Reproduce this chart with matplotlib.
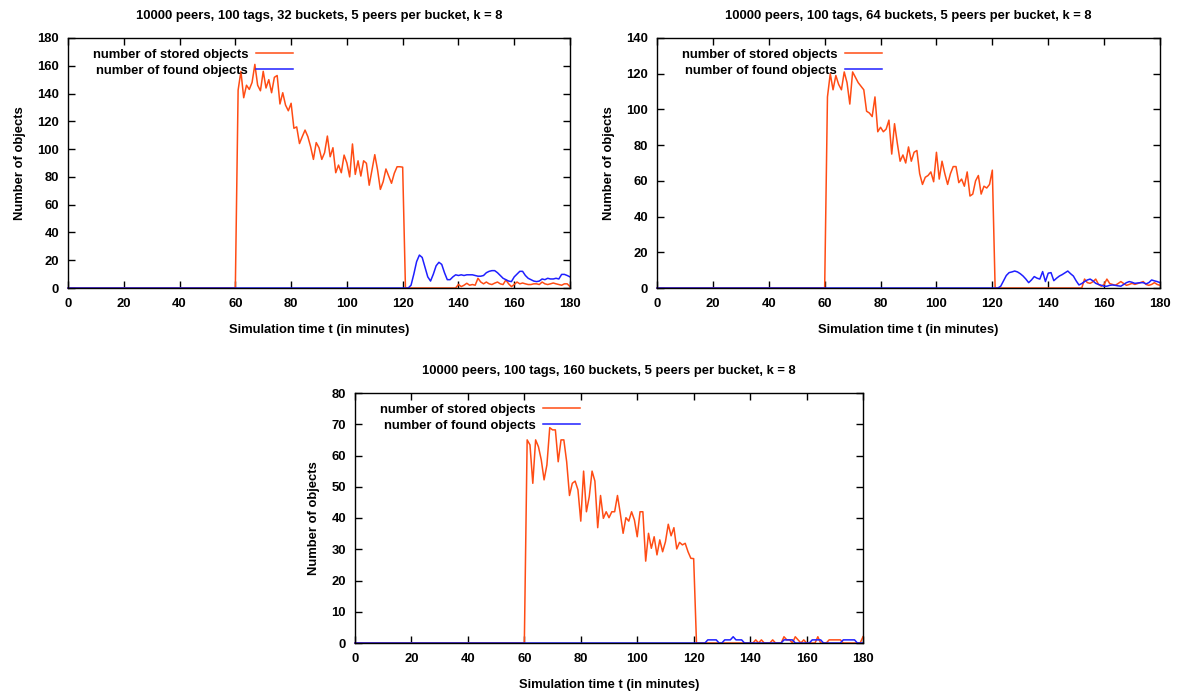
import numpy as np
import matplotlib
matplotlib.use("Agg")
import matplotlib.pyplot as plt

plt.rcParams['font.family'] = ['Liberation Sans', 'DejaVu Sans']
plt.rcParams['font.weight'] = 'bold'

minutes = np.arange(0, 181)

titles = ["10000 peers, 100 tags, 32 buckets, 5 peers per bucket, k = 8",
          "10000 peers, 100 tags, 64 buckets, 5 peers per bucket, k = 8",
          "10000 peers, 100 tags, 160 buckets, 5 peers per bucket, k = 8"]
y_max = [180, 140, 80]
y_step = [20, 20, 10]
x_ticks = [0, 20, 40, 60, 80, 100, 120, 140, 160, 180]

# ---- 32 buckets ----
stored_32_active = [142.5, 156, 137, 146, 143, 148, 161, 146, 142, 156, 144, 150, 140.6, 151.7, 153,
                    132.5, 140.6, 131.7, 127.6, 133, 115, 116, 104, 109, 113.7, 109, 101.7, 92.6, 104.7, 101,
                    92.6, 97.4, 109.4, 94.5, 101, 83, 88.5, 83, 95.7, 90, 80, 103.7, 81.8, 91.6, 80.6,
                    91.6, 89.8, 74, 85, 96, 85, 71, 76.5, 85.7, 80.6, 75.4, 82.6, 87.3, 87.3, 87]
stored_32_tail = [0] * 19 + [2.6, 1, 2, 3.4, 2, 2.5, 2, 7, 4.3, 3, 4.3, 3, 2.5, 3.5, 4.3, 3, 2.5, 5.8, 3, 1,
                             2.5, 4.3, 3, 3.6, 3, 2.5, 2.5, 3, 3, 2.5, 4.3, 3, 2.5, 3, 3.6, 3, 2.5, 2, 3, 3, 1]
found_32_tail = [0, 0, 2, 10, 19, 23.7, 22, 15, 8, 5, 10, 16, 18.5, 17, 11, 6, 6, 8, 9.5, 9,
                 9.5, 9, 9.5, 9.5, 9.5, 9, 8.5, 8.5, 9, 11, 12, 12.5, 12.5, 11, 9, 7, 6, 5, 4.6, 8,
                 10, 12, 12, 9, 7, 6, 5, 4.6, 5, 6.5, 6, 7, 6.5, 6.5, 7, 6.5, 9.8, 9.8, 9, 8]

# ---- 64 buckets ----
stored_64_active = [107, 120, 111, 119, 114, 111, 121, 115, 103, 121, 118, 115, 113, 111, 99,
                    98, 96, 107, 87.5, 90, 87.5, 89, 94, 75, 92, 81, 71, 74.5, 70, 79,
                    71, 76, 77, 64, 58, 62, 63, 65, 59.5, 76, 61, 71, 64, 58, 64,
                    68, 68, 59, 61, 57, 65, 51.5, 52.6, 60, 63, 52.6, 57, 56, 58, 66]
stored_64_tail = [0] * 32 + [5, 3, 2.6, 3.5, 5, 2, 1, 2, 5, 2.5, 2, 1.5, 2.5, 3.6, 2.5, 1.5, 2, 2.6,
                             2, 2.5, 3, 3.6, 2, 1.5, 2, 3, 2, 1.5]
found_64_tail = [0, 0, 1, 4, 7, 8.6, 9, 9.5, 9, 8, 6.7, 5, 3, 4.5, 6.4, 5.5, 5, 9.2, 3.6, 8.3,
                 8.6, 4.1, 5.5, 6.7, 7.5, 8.5, 9.5, 8, 6.7, 4, 1.7, 2.5, 3.6, 4.5, 5, 4, 2.6, 2, 1.5, 1,
                 1, 1.5, 1.7, 1.5, 1.2, 1, 2, 3, 3.6, 3.2, 2.6, 2.8, 3, 3, 2.3, 3, 4.5, 4, 3.6, 3]

# ---- 160 buckets ----
stored_160_active = [65, 63.4, 51.1, 65, 62.8, 58.6, 52.2, 57, 68.9, 68.2, 68.2, 58, 65, 65, 58,
                     47.2, 51.1, 51.8, 49, 39, 55, 42, 46.8, 55, 51.8, 36.9, 47.2, 39.9, 42, 40.1,
                     42, 42, 47.2, 41.5, 35.1, 40.1, 39, 42, 39.4, 34, 42, 42, 26.2, 35.1, 30.3,
                     34, 28.2, 33, 29.2, 32.4, 38, 34.3, 36.9, 30.1, 32.2, 31.4, 31.9, 29.2, 27.1, 27]
stored_160_tail = [0] * 21 + [1, 0, 1, 0, 0, 0, 1, 0, 0, 0, 2, 1, 1, 0, 2, 1, 0, 1, 0, 0,
                              0, 0, 2, 0, 0, 0, 1, 1, 1, 1, 1, 0, 0, 0, 0, 0, 0, 0, 2]
found_160_tail = [0, 0, 0, 0, 1, 1, 1, 1, 0, 0, 1, 1, 1, 2, 1, 1, 1, 0, 0, 0,
                  0, 0, 0, 0, 0, 0, 0, 0, 0, 0, 0, 1, 1, 1, 1, 0, 0, 0, 0, 0,
                  0, 1, 1, 1, 1, 0, 0, 0, 0, 0, 0, 0, 1, 1, 1, 1, 1, 0, 0, 0]

stored_series = [
    np.concatenate([np.zeros(61), stored_32_active, stored_32_tail]),
    np.concatenate([np.zeros(61), stored_64_active, stored_64_tail]),
    np.concatenate([np.zeros(61), stored_160_active, stored_160_tail]),
]
found_series = [
    np.concatenate([np.zeros(121), found_32_tail]),
    np.concatenate([np.zeros(121), found_64_tail]),
    np.concatenate([np.zeros(121), found_160_tail]),
]

W, H = 1177, 695
fig = plt.figure(figsize=(W / 100, H / 100), dpi=100)

# axes boxes in pixels: left, top, right, bottom
boxes = [(68, 38, 570, 288), (657, 38, 1160, 288), (355, 393, 863, 643)]
legend_right = [0.448, 0.447, 0.443]

orange = '#ff4c14'
blue = '#1f1fff'
FS = 9.4

for i in range(3):
    l, t, r, b = boxes[i]
    ax = fig.add_axes([l / W, 1 - b / H, (r - l) / W, (b - t) / H])
    ax.plot(minutes, stored_series[i], color=orange, lw=1.1, label='number of stored objects',
            clip_on=False)
    ax.plot(minutes, found_series[i], color=blue, lw=1.1, label='number of found objects',
            clip_on=False)
    ax.set_xlim(0, 180)
    ax.set_ylim(0, y_max[i])
    ax.set_xticks(x_ticks)
    ax.set_yticks(np.arange(0, y_max[i] + 1, y_step[i]))
    ax.tick_params(direction='in', top=True, right=True, length=5, width=1, labelsize=FS)
    ax.tick_params(axis='x', pad=7.5)
    ax.tick_params(axis='y', pad=6.5)
    for lab in ax.get_xticklabels() + ax.get_yticklabels():
        lab.set_fontweight('bold')
    for sp in ax.spines.values():
        sp.set_linewidth(1.0)
    ax.set_title(titles[i], fontsize=FS, fontweight='bold', pad=14)
    ax.set_xlabel('Simulation time t (in minutes)', fontsize=FS, fontweight='bold', labelpad=9.5)
    ax.set_ylabel('Number of objects', fontsize=FS, fontweight='bold', labelpad=8)
    ax.legend(loc='upper right', bbox_to_anchor=(legend_right[i], 0.957),
              frameon=False, markerfirst=False, handlelength=2.84, handletextpad=0.59,
              labelspacing=0.28, borderaxespad=0, borderpad=0,
              prop={'size': FS, 'weight': 'bold'})

fig.savefig('out.png', dpi=100)
